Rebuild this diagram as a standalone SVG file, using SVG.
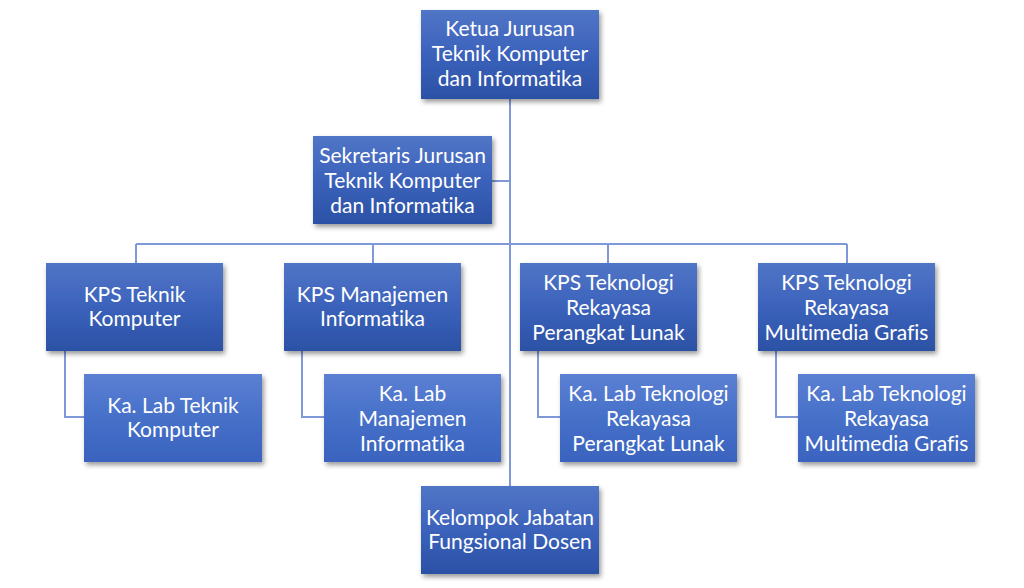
<svg xmlns="http://www.w3.org/2000/svg" width="1024" height="588" viewBox="0 0 1024 588">
<defs>
<linearGradient id="gDark" x1="0" y1="0" x2="0" y2="1">
<stop offset="0" stop-color="#5075c6"/>
<stop offset="0.5" stop-color="#3b62bb"/>
<stop offset="1" stop-color="#2b51a5"/>
</linearGradient>
<linearGradient id="gLight" x1="0" y1="0" x2="0" y2="1">
<stop offset="0" stop-color="#5b80d3"/>
<stop offset="0.5" stop-color="#4670c9"/>
<stop offset="1" stop-color="#3a63bf"/>
</linearGradient>
<filter id="sh" x="-10%" y="-10%" width="125%" height="130%">
<feDropShadow dx="2" dy="3" stdDeviation="2.5" flood-color="#000" flood-opacity="0.4"/>
</filter>
</defs>
<style>
.d{fill:url(#gDark);filter:url(#sh)}
.l{fill:url(#gLight);filter:url(#sh)}
text{font-family:Lato,"Open Sans","Liberation Sans",sans-serif;font-size:21px;fill:#fff;text-anchor:middle;font-variant-ligatures:none;font-feature-settings:"liga" 0}
.c{fill:none;stroke:#7f98d8;stroke-width:2}
</style>
<rect width="1024" height="588" fill="#fff"/>
<g id="connectors">
<path class="c" d="M510,99V486M492,181H510M136,244H847M136,244V263M373,244V263M608,244V263M847,244V263M65,351V417H84M302,351V417H324M538,351V417H560M776,351V417H798"/>
</g>
<g id="ketua">
<rect class="d" x="421" y="10" width="178" height="89"/>
<text x="510" y="36">Ketua Jurusan</text>
<text x="510" y="61">Teknik Komputer</text>
<text x="510" y="86">dan Informatika</text>
</g>
<g id="sekretaris">
<rect class="d" x="313" y="136" width="179" height="88"/>
<text x="402.5" y="162.5">Sekretaris Jurusan</text>
<text x="402.5" y="187.5">Teknik Komputer</text>
<text x="402.5" y="212.5">dan Informatika</text>
</g>
<g id="kps-tk">
<rect class="d" x="46" y="263" width="177" height="88"/>
<text x="134.5" y="301.5">KPS Teknik</text>
<text x="134.5" y="326">Komputer</text>
</g>
<g id="kps-mi">
<rect class="d" x="284" y="263" width="177" height="88"/>
<text x="372.5" y="301.5">KPS Manajemen</text>
<text x="372.5" y="326">Informatika</text>
</g>
<g id="kps-trpl">
<rect class="d" x="520" y="263" width="177" height="88"/>
<text x="608.5" y="289.5">KPS Teknologi</text>
<text x="608.5" y="314.5">Rekayasa</text>
<text x="608.5" y="339.5">Perangkat Lunak</text>
</g>
<g id="kps-trmg">
<rect class="d" x="758" y="263" width="177" height="88"/>
<text x="846.5" y="289.5">KPS Teknologi</text>
<text x="846.5" y="314.5">Rekayasa</text>
<text x="846.5" y="339.5">Multimedia Grafis</text>
</g>
<g id="lab-tk">
<rect class="l" x="84" y="374" width="178" height="88"/>
<text x="173" y="412.5">Ka. Lab Teknik</text>
<text x="173" y="437">Komputer</text>
</g>
<g id="lab-mi">
<rect class="l" x="324" y="374" width="177" height="88"/>
<text x="412.5" y="400.5">Ka. Lab</text>
<text x="412.5" y="425.5">Manajemen</text>
<text x="412.5" y="450.5">Informatika</text>
</g>
<g id="lab-trpl">
<rect class="l" x="560" y="374" width="177" height="88"/>
<text x="648.5" y="400.5">Ka. Lab Teknologi</text>
<text x="648.5" y="425.5">Rekayasa</text>
<text x="648.5" y="450.5">Perangkat Lunak</text>
</g>
<g id="lab-trmg">
<rect class="l" x="798" y="374" width="177" height="88"/>
<text x="886.5" y="400.5">Ka. Lab Teknologi</text>
<text x="886.5" y="425.5">Rekayasa</text>
<text x="886.5" y="450.5">Multimedia Grafis</text>
</g>
<g id="kelompok">
<rect class="d" x="421" y="486" width="178" height="88"/>
<text x="510" y="524.5">Kelompok Jabatan</text>
<text x="510" y="549">Fungsional Dosen</text>
</g>
</svg>
